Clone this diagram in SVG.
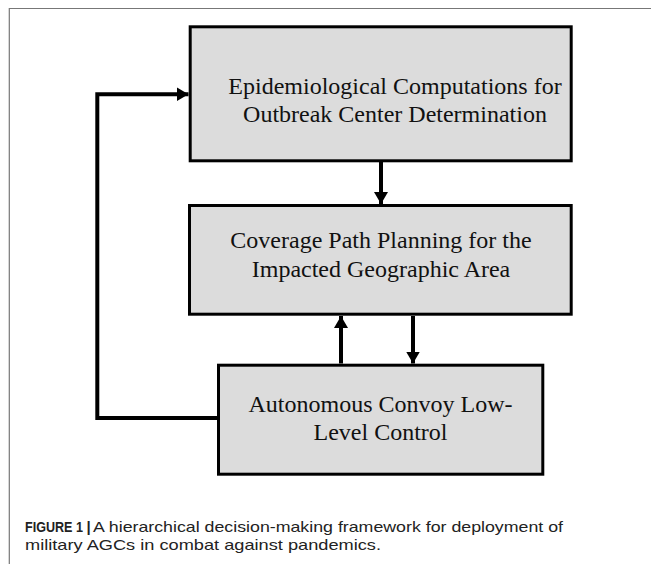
<svg xmlns="http://www.w3.org/2000/svg" width="651" height="564" viewBox="0 0 651 564">
<style>
.box{fill:#dcdcdc;stroke:#000;stroke-width:3}
.lbl{font-family:"Liberation Serif","Times New Roman",serif;font-size:24px;fill:#111;text-anchor:middle}
.con{fill:none;stroke:#000;stroke-width:4;stroke-linejoin:miter}
.cap{font-family:"Liberation Sans",Arial,sans-serif;font-size:15px;fill:#222}
</style>
<defs>
<marker id="ah" markerUnits="userSpaceOnUse" markerWidth="13" markerHeight="14" refX="12" refY="7" orient="auto">
<path d="M0,0 L12,7 L0,14 Z" fill="#000"/>
</marker>
</defs>
<rect width="651" height="564" fill="#fff"/>
<path d="M9.3,564 V8.5 H651" fill="none" stroke="#777" stroke-width="1.2"/>
<g id="connectors">
<path class="con" d="M381,162 V204" marker-end="url(#ah)"/>
<path class="con" d="M413,316 V363.5" marker-end="url(#ah)"/>
<path class="con" d="M341,363.5 V316" marker-end="url(#ah)"/>
<path class="con" d="M217,418 H97.3 V94.3 H188.5" marker-end="url(#ah)"/>
</g>
<g id="node1">
<rect class="box" x="190.2" y="26.8" width="381" height="134"/>
<text class="lbl" x="395" y="93.5">Epidemiological Computations for</text>
<text class="lbl" x="395" y="121.7">Outbreak Center Determination</text>
</g>
<g id="node2">
<rect class="box" x="189.5" y="205.5" width="381.7" height="108.7"/>
<text class="lbl" x="381" y="247.7">Coverage Path Planning for the</text>
<text class="lbl" x="381" y="276.7">Impacted Geographic Area</text>
</g>
<g id="node3">
<rect class="box" x="218.5" y="365.2" width="324.3" height="109"/>
<text class="lbl" x="380.5" y="411.7">Autonomous Convoy Low-</text>
<text class="lbl" x="380.5" y="440">Level Control</text>
</g>
<g id="caption">
<text class="cap" y="531.7"><tspan x="25" font-weight="bold" textLength="58" lengthAdjust="spacingAndGlyphs">FIGURE 1</tspan><tspan x="86.5" font-weight="bold">|</tspan><tspan x="93" textLength="470" lengthAdjust="spacingAndGlyphs">A hierarchical decision-making framework for deployment of</tspan></text>
<text class="cap" x="25" y="550" textLength="356" lengthAdjust="spacingAndGlyphs">military AGCs in combat against pandemics.</text>
</g>
</svg>
